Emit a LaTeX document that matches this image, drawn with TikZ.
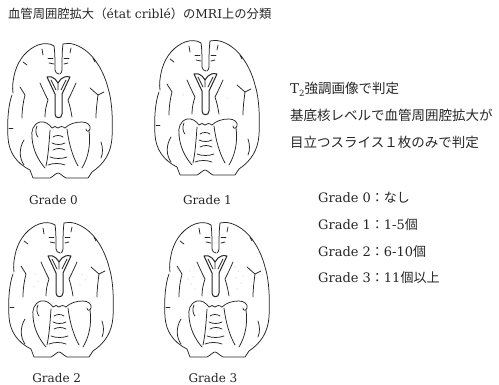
\documentclass[tikz,border=0pt]{standalone}
\usepackage{fontspec}
\usetikzlibrary{calc}
\setmainfont{DejaVu Serif}
\newfontfamily\jp{Noto Sans CJK JP}
\tikzset{
  brainline/.style={line width=0.75pt, line cap=round, line join=round, draw=black!85},
  txt/.style={anchor=base west, inner sep=0pt, text=black!85},
  lbl/.style={anchor=base, inner sep=0pt, text=black!85, font=\fontsize{12}{14}\selectfont},
  spot/.style={fill=black!35, draw=none},
  pics/brain/.style={code={
    % left frontal outer
    \draw[brainline] (54,46) .. controls (50,43) and (44,43) .. (38,45)
       .. controls (28,49) and (19,58) .. (15,72)
       .. controls (13,80) and (12,87) .. (13,93);
    % left temporal, bottom, right side
    \draw[brainline] (12,95) .. controls (8,105) and (7,125) .. (8,138)
       .. controls (9,152) and (16,163) .. (30,170)
       -- (33,178) -- (50,178) .. controls (54,176) and (56,173) .. (58,173)
       .. controls (60,173) and (62,176) .. (66,178) -- (88,178) -- (92,172)
       .. controls (104,164) and (111,153) .. (112,138)
       .. controls (113,120) and (112,100) .. (108,88)
       .. controls (104,72) and (95,57) .. (85,50)
       .. controls (78,45) and (70,42) .. (63,44);
    % medial frontal edges
    \draw[brainline] (54,46) .. controls (55,52) and (55,62) .. (55,70)
       .. controls (55,72) and (57,74) .. (59,74);
    \draw[brainline] (63,44) .. controls (62,52) and (62,62) .. (62,70)
       .. controls (62,72) and (61,73) .. (60,74);
    % sulci ticks
    \draw[brainline] (42,49) -- (43,55);
    \draw[brainline] (48,58) -- (53,58);
    \draw[brainline] (49,63) -- (54,64);
    \draw[brainline] (64,58) -- (69,58);
    \draw[brainline] (64,64) -- (68,63);
    \draw[brainline] (71,48) -- (70,53);
    \draw[brainline] (23,62) -- (27,65);
    \draw[brainline] (93,58) -- (95,62);
    \draw[brainline] (9,128) -- (13,128);
    % ventricles
    \draw[brainline, line width=1pt] (47,77) .. controls (50,76) and (53,77) .. (55,79)
       -- (58,83) -- (61,79) .. controls (63,77) and (66,76) .. (70,77)
       -- (62,94) -- (62,114) .. controls (62,119) and (55,119) .. (55,114)
       -- (55,94) -- cycle;
    \draw[brainline] (51,80) -- (56,90) (66,80) -- (61,90) (58,83) -- (58,90);
    % internal capsules
    \draw[brainline] (40,83) .. controls (43,90) and (46,96) .. (48,100)
       .. controls (46,106) and (45,111) .. (45,117);
    \draw[brainline] (76,83) .. controls (73,90) and (70,96) .. (68,100)
       .. controls (70,106) and (71,111) .. (72,117);
    % sylvian fissures
    \draw[brainline] (20,87) -- (25,95) .. controls (23,103) and (22,110) .. (22,118);
    \draw[brainline] (90,88) -- (98,95) -- (104,92);
    \draw[brainline] (98,95) .. controls (97,103) and (96,110) .. (96,118);
    % midbrain upper contour
    \draw[brainline] (32,138) .. controls (31,131) and (33,124) .. (40,122)
       .. controls (45,121) and (49,124) .. (52,128)
       .. controls (54,126) and (56,126) .. (58,128)
       .. controls (60,126) and (62,126) .. (65,128)
       .. controls (69,124) and (75,122) .. (82,122)
       .. controls (87,122) and (91,125) .. (90,129)
       .. controls (89,132) and (86,132) .. (86,129);
    \draw[brainline] (37,126) .. controls (35,130) and (36,135) .. (38,137);
    % inner temporal edges and peduncles
    \draw[brainline] (32,138) .. controls (33,150) and (38,160) .. (45,168);
    \draw[brainline] (50,130) .. controls (49,145) and (48,157) .. (46,166);
    \draw[brainline] (67,129) .. controls (69,145) and (73,157) .. (78,166);
    \draw[brainline] (89,131) .. controls (91,145) and (88,158) .. (82,168);
    \draw[brainline] (24,140) .. controls (19,148) and (19,158) .. (24,165);
    \draw[brainline] (101,142) .. controls (103,148) and (103,153) .. (101,158);
    % striations
    \draw[brainline] (53,137) .. controls (56,135) and (60,135) .. (63,137);
    \draw[brainline] (52,143) .. controls (56,145) and (61,145) .. (65,143);
    \draw[brainline] (53,150) .. controls (57,148) and (61,148) .. (65,150);
    \draw[brainline] (50,157) .. controls (55,159) and (62,159) .. (67,157);
    \draw[brainline] (48,165) .. controls (53,163) and (60,163) .. (65,165);
  }}
}
\begin{document}
\begin{tikzpicture}[x=1pt, y=-1pt]
  \useasboundingbox (0,0) rectangle (499,385);
  \fill[white] (0,0) rectangle (499,385);

  % title
  \node[txt, font=\fontsize{12.3}{14}\selectfont] (title) at (8,19)
    {{\jp 血管周囲腔拡大（}état criblé{\jp ）の}MRI{\jp 上の分類}};

  % brains
  \pic (b0) at (0,0) {brain};
  \pic (b1) at (147,-3) {brain};
  \pic (b2) at (1,179) {brain};
  \pic (b3) at (157,179) {brain};

  % faint spots (grades)
  \foreach \x/\y in {36/98, 80/101}
    \fill[spot] ($(147,-3)+(\x,\y)$) circle (0.5);
  \foreach \x/\y in {34/95, 37/103, 81/96, 79/106, 84/101, 33/108}
    \fill[spot] ($(1,179)+(\x,\y)$) circle (0.5);
  \foreach \x/\y in {33/92, 36/98, 34/105, 38/110, 31/100, 81/92, 79/99, 84/104, 80/110, 86/97, 37/88, 78/88}
    \fill[spot] ($(157,179)+(\x,\y)$) circle (0.5);

  % labels
  \node[lbl] (l0) at (53.5,205) {Grade 0};
  \node[lbl] (l1) at (207.5,205) {Grade 1};
  \node[lbl] (l2) at (56.7,383) {Grade 2};
  \node[lbl] (l3) at (213,383) {Grade 3};

  % right text
  \node[txt, font=\fontsize{13.5}{16}\selectfont] (r1) at (290,94)
    {T\raisebox{-2.5pt}{\fontsize{8.5}{9}\selectfont 2}{\jp 強調画像で判定}};
  \node[txt, font=\fontsize{13.5}{16}\selectfont\jp] (r2) at (290,121) {基底核レベルで血管周囲腔拡大が};
  \node[txt, font=\fontsize{13.5}{16}\selectfont\jp] (r3) at (290,148) {目立つスライス１枚のみで判定};

  % grade list
  \node[txt, font=\fontsize{13}{15}\selectfont] (g0) at (318,203) {Grade 0{\jp ：なし}};
  \node[txt, font=\fontsize{13}{15}\selectfont] (g1) at (318,230) {Grade 1{\jp ：}1-5{\jp 個}};
  \node[txt, font=\fontsize{13}{15}\selectfont] (g2) at (318,256.5) {Grade 2{\jp ：}6-10{\jp 個}};
  \node[txt, font=\fontsize{13}{15}\selectfont] (g3) at (318,283) {Grade 3{\jp ：}11{\jp 個以上}};
\end{tikzpicture}
\end{document}
